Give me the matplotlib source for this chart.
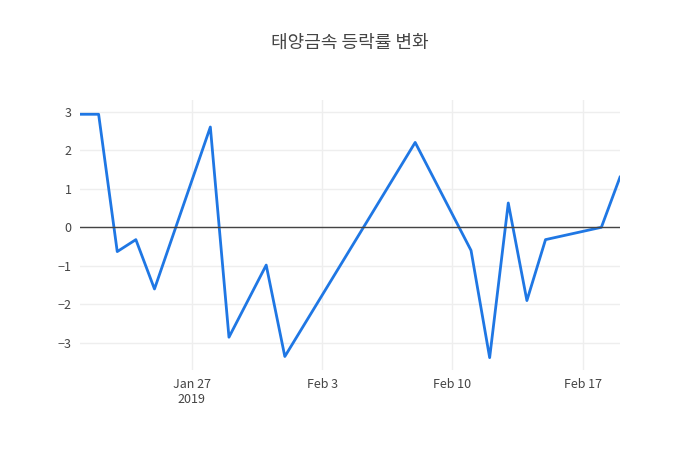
import matplotlib.pyplot as plt
import matplotlib.dates as mdates
import pandas as pd

plt.rcParams['font.family'] = ['Noto Sans CJK KR', 'DejaVu Sans']

dates = pd.to_datetime([
    '2019-01-21', '2019-01-22', '2019-01-23', '2019-01-24', '2019-01-25',
    '2019-01-28', '2019-01-29', '2019-01-31', '2019-02-01', '2019-02-08',
    '2019-02-11', '2019-02-12', '2019-02-13', '2019-02-14', '2019-02-15',
    '2019-02-18', '2019-02-19'])
change = [2.93, 2.93, -0.63, -0.32, -1.6, 2.6, -2.85, -0.98, -3.35, 2.2,
          -0.6, -3.38, 0.63, -1.9, -0.32, 0.0, 1.3]

fig = plt.figure(figsize=(7, 4.5), dpi=100)
ax = fig.add_axes([80/700, 80/450, 540/700, 270/450])
ax.plot(dates, change, color='#1f77e4', lw=2)
ax.axhline(0, color='#444444', lw=1)
ax.set_xlim(dates[0], dates[-1])
ax.set_ylim(-3.7, 3.3)
ax.set_yticks([-3, -2, -1, 0, 1, 2, 3])
ax.set_yticklabels(['\u22123', '\u22122', '\u22121', '0', '1', '2', '3'])
ticks = pd.to_datetime(['2019-01-27', '2019-02-03', '2019-02-10', '2019-02-17'])
ax.set_xticks(ticks)
ax.set_xticklabels(['Jan 27\n2019', 'Feb 3', 'Feb 10', 'Feb 17'])
ax.grid(color='#eeeeee', lw=1)
for s in ax.spines.values():
    s.set_visible(False)
ax.tick_params(length=0, colors='#444444', labelsize=9, pad=6)
fig.suptitle('태양금속 등락률 변화', y=0.925, fontsize=13, color='#444444')
fig.savefig('out.png', dpi=100)
